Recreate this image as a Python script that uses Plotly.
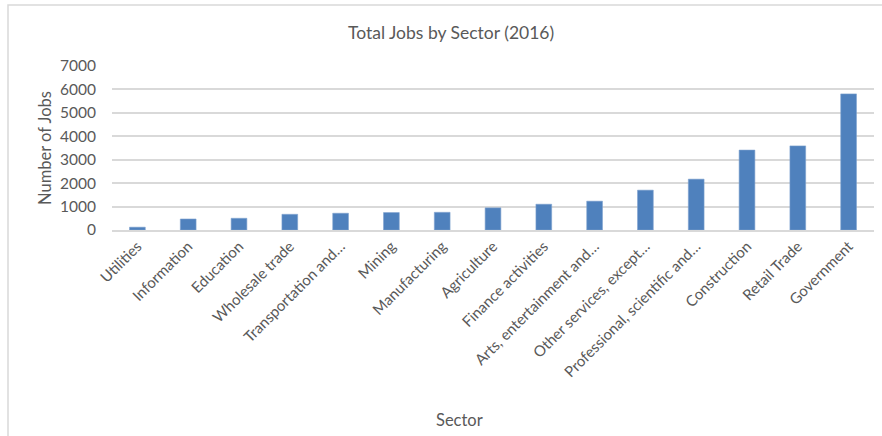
import plotly.graph_objects as go

# Sector categories (long names shortened as shown on the axis)
sectors = [
    "Utilities", "Information", "Education", "Wholesale trade",
    "Transportation and…", "Mining", "Manufacturing", "Agriculture",
    "Finance activities", "Arts, entertainment and…", "Other services, except…",
    "Professional, scientific and…", "Construction", "Retail Trade", "Government",
]
# Total jobs per sector, 2016
jobs = [120, 470, 500, 670, 715, 745, 755, 945, 1100, 1230, 1700, 2170, 3410, 3590, 5810]

y_ticks = [0, 1000, 2000, 3000, 4000, 5000, 6000, 7000]

W, H = 882, 436
L, R, T, B = 112, 8, 66, 206
pw, ph = W - L - R, H - T - B

FONT = "Lato"
GRAY = "#595959"
GRID = "#D9D9D9"

fig = go.Figure(
    go.Bar(
        x=sectors,
        y=jobs,
        width=0.31,
        marker=dict(color="#4F81BD", line=dict(color="#7DA1CF", width=0.6)),
    )
)

# pixel -> paper coordinate helpers
def px_x(x):
    return (x - L) / pw

def px_y(y):
    return 1 - (y - T) / ph

# outer chart frame
fig.add_shape(
    type="rect", xref="paper", yref="paper",
    x0=px_x(8), x1=px_x(W + 10), y0=px_y(H + 10), y1=px_y(5),
    line=dict(color=GRID, width=1.5), fillcolor="rgba(0,0,0,0)", layer="below",
)

def label(text, x, y, size, angle=0):
    fig.add_annotation(
        text=text, xref="paper", yref="paper", x=px_x(x), y=px_y(y),
        xanchor="center", yanchor="middle", showarrow=False, textangle=angle,
        font=dict(family=FONT, size=size, color=GRAY),
    )

label("Total Jobs by Sector (2016)", 451, 32, 17.5)
label("Number of Jobs", 45, 148, 16.5, angle=-90)
label("Sector", 459, 420, 16.5)

fig.update_layout(
    width=W, height=H,
    margin=dict(l=L, r=R, t=T, b=B),
    paper_bgcolor="white", plot_bgcolor="white",
    showlegend=False,
    font=dict(family=FONT, color=GRAY),
    xaxis=dict(
        type="category", tickangle=-45, showgrid=False,
        showline=True, linecolor=GRID, linewidth=1.5,
        ticks="", tickfont=dict(family=FONT, size=15, color=GRAY),
        range=[-0.5, len(sectors) - 0.5],
    ),
    yaxis=dict(
        range=[0, 7000], tickvals=y_ticks, showgrid=True,
        gridcolor=GRID, gridwidth=1.5, zeroline=False, showline=False,
        ticks="", tickfont=dict(family=FONT, size=15.5, color=GRAY),
        ticklabelstandoff=15,
    ),
)

fig.write_html("out.html")
